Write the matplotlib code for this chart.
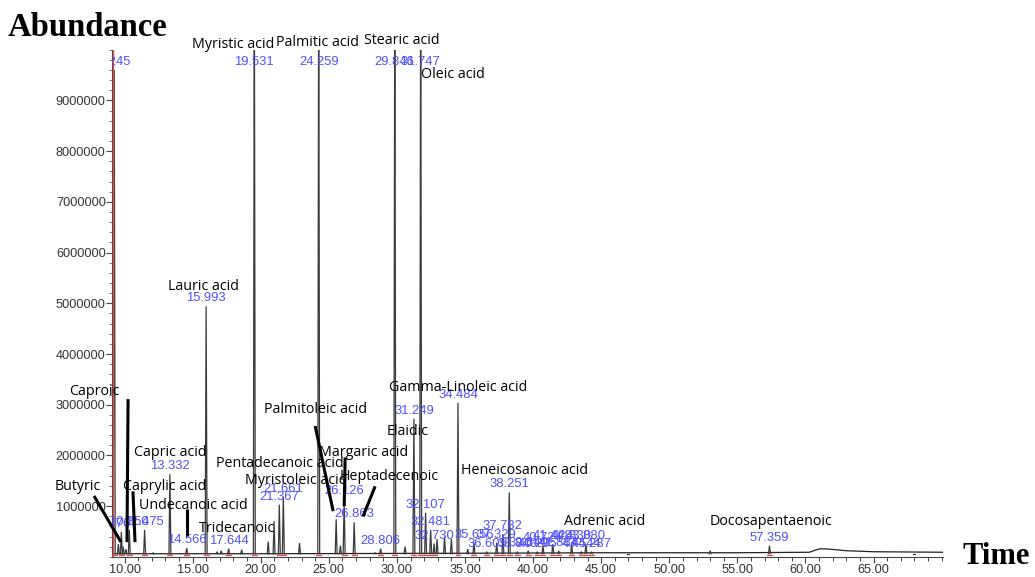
import matplotlib
matplotlib.use("Agg")
import matplotlib.pyplot as plt
from matplotlib.ticker import MultipleLocator

# ---------------- data ----------------
# labelled peaks: retention time (min) and height (abundance, millions)
peak_rt = [9.245, 9.767, 10.350, 11.475, 13.332, 14.566, 15.993, 17.644,
           19.531, 21.367, 21.661, 24.259, 26.126, 26.863, 28.806, 29.846,
           31.249, 31.747, 32.107, 32.481, 32.730, 34.484, 35.656, 36.605,
           37.329, 37.782, 38.251, 38.840, 39.640, 40.295, 40.724, 41.448,
           41.884, 42.830, 43.544, 43.880, 44.287, 57.359]
peak_h = [9.60, 0.49, 0.53, 0.53, 1.63, 0.17, 4.94, 0.16,
          12.0, 1.03, 1.18, 12.0, 1.14, 0.68, 0.16, 12.0,
          2.72, 12.0, 0.87, 0.53, 0.26, 3.04, 0.28, 0.10,
          0.28, 0.45, 1.27, 0.10, 0.12, 0.10, 0.22, 0.25,
          0.12, 0.25, 0.10, 0.25, 0.10, 0.22]

# unlabelled minor peaks
minor_rt = [9.55, 9.90, 10.10, 12.10, 16.80, 17.10, 18.60, 20.55, 20.98,
            22.85, 25.54, 25.85, 28.40, 30.60, 32.95, 33.50, 34.00, 35.20,
            47.00, 53.00, 68.00]
minor_h = [0.25, 0.20, 0.15, 0.08, 0.10, 0.12, 0.14, 0.30, 0.70,
           0.27, 0.74, 0.22, 0.08, 0.20, 0.35, 0.40, 0.35, 0.15,
           0.06, 0.12, 0.06]

# detector baseline
base_t = [9.10, 20.0, 35.0, 45.0, 55.0, 60.3, 60.7, 61.1, 61.8, 63.0, 65.0, 70.1]
base_v = [0.06, 0.06, 0.07, 0.08, 0.08, 0.09, 0.13, 0.16, 0.15, 0.12, 0.10, 0.09]

# compound names placed next to peaks: (name, rt, abundance)
names = [
    ("Butyric", 6.58, 1.39), ("Caproic", 7.76, 3.26),
    ("Caprylic acid", 12.97, 1.39), ("Capric acid", 13.34, 2.06),
    ("Undecanoic acid", 15.03, 1.02), ("Lauric acid", 15.77, 5.33),
    ("Tridecanoic", 18.27, 0.55), ("Myristic acid", 17.97, 10.10),
    ("Pentadecanoic acid", 21.43, 1.85), ("Myristoleic acid", 22.60, 1.51),
    ("Palmitic acid", 24.15, 10.15), ("Palmitoleic acid", 24.00, 2.91),
    ("Margaric acid", 27.52, 2.06), ("Heptadecenoic", 29.40, 1.59),
    ("Stearic acid", 30.39, 10.19), ("Oleic acid", 34.14, 9.52),
    ("Elaidic", 30.76, 2.47), ("Gamma-Linoleic acid", 34.50, 3.34),
    ("Heneicosanoic acid", 39.35, 1.71), ("Adrenic acid", 45.23, 0.69),
    ("Docosapentaenoic", 57.50, 0.69),
]

# pointer lines from names to peaks: (t0, y0, t1, y1)
pointers = [
    (7.76, 1.20, 9.74, 0.29),
    (10.26, 3.11, 10.18, 0.29),
    (10.62, 1.29, 10.77, 0.29),
    (14.59, 0.94, 14.59, 0.41),
    (24.00, 2.58, 25.32, 0.90),
    (26.20, 1.96, 26.13, 1.00),
    (28.40, 1.39, 27.52, 0.80),
]

x_ticks = [10, 15, 20, 25, 30, 35, 40, 45, 50, 55, 60, 65]
y_ticks = [1, 2, 3, 4, 5, 6, 7, 8, 9]

M = 1e6
NUM_BLUE = "#5050ff"

# ---------------- figure ----------------
fig = plt.figure(figsize=(10.35, 5.77), dpi=100)
ax = fig.add_axes([0.10821, 0.03500, 0.80290, 0.87870])
ax.set_xlim(9.08, 70.1)
ax.set_ylim(0, 10 * M)

# baseline trace
ax.plot(base_t, [v * M for v in base_v], color="#222222", lw=0.9, zorder=2)

# peaks drawn as narrow triangles rising from the baseline
b0 = 0.06
w = 0.07
for rt, h in list(zip(peak_rt, peak_h)) + list(zip(minor_rt, minor_h)):
    ax.plot([rt - w, rt, rt + w], [b0 * M, h * M, b0 * M],
            color="#3a3a3a", lw=0.9, zorder=3, solid_joinstyle="miter")

# integration markers
ax.axvline(9.17, color="#e05050", lw=1.0, zorder=4)
for rt, h in zip(peak_rt, peak_h):
    ax.plot([rt - 0.18, rt + 0.18], [0.035 * M, 0.035 * M],
            color="#e05050", lw=0.9, zorder=4)

# retention-time labels
for rt, h in zip(peak_rt, peak_h):
    ax.text(rt, (min(h, 9.6) + 0.04) * M, f"{rt:.3f}", color=NUM_BLUE,
            ha="center", va="bottom", fontsize=9.4,
            family="Liberation Sans", clip_on=True, zorder=6)

# compound names
for name, t, y in names:
    ax.text(t, y * M, name, ha="center", va="center", fontsize=10.3,
            family="Open Sans", color="black", clip_on=False, zorder=7)

for t0, y0, t1, y1 in pointers:
    ax.plot([t0, t1], [y0 * M, y1 * M], color="black", lw=2.2,
            clip_on=False, solid_capstyle="butt", zorder=8)

# axes styling
for s in ("top", "right"):
    ax.spines[s].set_visible(False)
for s in ("left", "bottom"):
    ax.spines[s].set_color("#444444")
    ax.spines[s].set_linewidth(0.8)

ax.set_xticks(x_ticks)
ax.set_xticklabels([f"{v:.2f}" for v in x_ticks])
ax.xaxis.set_minor_locator(MultipleLocator(1))
ax.set_yticks([v * M for v in y_ticks])
ax.set_yticklabels([str(int(v * M)) for v in y_ticks])
ax.yaxis.set_minor_locator(MultipleLocator(0.2 * M))

ax.tick_params(axis="x", which="major", length=4, width=0.8, pad=1,
               colors="#444444", labelcolor="#333333", labelsize=9.2)
ax.tick_params(axis="x", which="minor", length=3, width=0.7, colors="#444444")
ax.tick_params(axis="y", which="major", length=4, width=0.8, pad=0.5,
               colors="#444444", labelcolor="#333333", labelsize=9.2)
ax.tick_params(axis="y", which="minor", length=2, width=0.6, colors="#666666")
for lab in ax.get_xticklabels() + ax.get_yticklabels():
    lab.set_family("Liberation Sans")

# axis titles
fig.text(8 / 1035, 1 - 27 / 577, "Abundance", ha="left", va="center",
         fontsize=23.5, fontweight="bold", family="Liberation Serif")
fig.text(1030 / 1035, 1 - 557 / 577, "Time", ha="right", va="center",
         fontsize=22, fontweight="bold", family="Liberation Serif")

fig.savefig("out.png", dpi=100, facecolor="white")
